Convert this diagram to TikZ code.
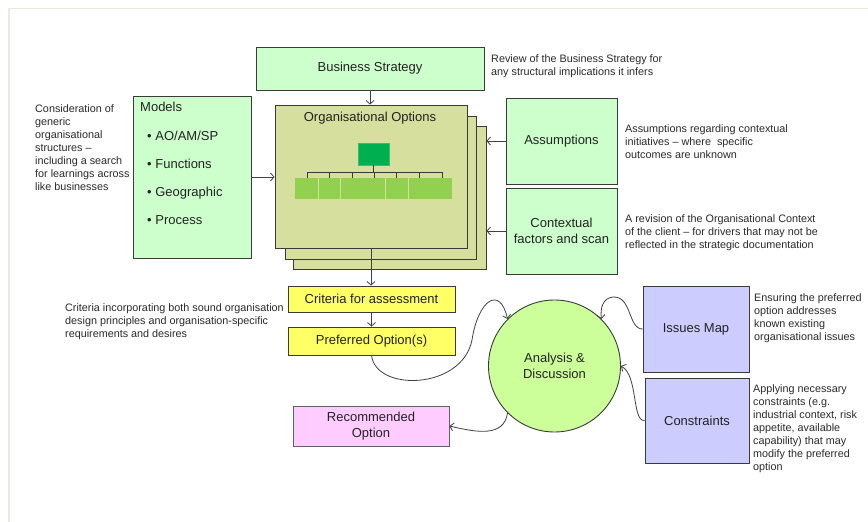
\documentclass[tikz,border=0pt]{standalone}
\usepackage{fontspec}
\setmainfont{Liberation Sans}
\usetikzlibrary{arrows.meta}
\definecolor{lgreen}{HTML}{CCFFCC}
\definecolor{olive}{RGB}{215,223,158}
\definecolor{dkgreen}{HTML}{00B050}
\definecolor{mdgreen}{HTML}{92D050}
\definecolor{yell}{HTML}{FFFF66}
\definecolor{circ}{HTML}{CCFF99}
\definecolor{lav}{HTML}{CCCCFF}
\definecolor{pinkc}{HTML}{FFCCFF}
\definecolor{linec}{HTML}{3A3A3A}
\definecolor{conc}{HTML}{404040}
\definecolor{txt}{HTML}{222222}
\definecolor{notec}{HTML}{2A2A2A}
\definecolor{framec}{HTML}{ECEADC}
\newcommand\bxfont{\fontsize{13}{15.3}\selectfont}
\newcommand\ntfont{\fontsize{10.8}{13}\selectfont}
\begin{document}
\begin{tikzpicture}[x=1pt,y=-1pt,
  box/.style={draw=linec, line width=0.9pt, inner sep=2pt, align=center, font=\bxfont, text=txt},
  note/.style={anchor=north west, inner sep=0pt, align=left, font=\ntfont, text=notec},
  mtext/.style={anchor=base west, inner sep=0pt, font=\bxfont, text=txt},
  conn/.style={draw=conc, line width=0.8pt, -{Straight Barb[length=3.5pt,width=8pt]}},
  chart/.style={draw=linec, line width=0.9pt}]
\useasboundingbox (0,0) rectangle (868,522);
\fill[white] (0,0) rectangle (868,522);
\draw[framec, line width=1.5pt] (9,522) -- (9,8.5) -- (868,8.5);

% top
\node[box, fill=lgreen, minimum width=228pt, minimum height=43pt] (bs) at (370,68.5) {Business Strategy};
\node[note] (bsnote) at (491,54.5) {Review of the Business Strategy for\\any structural implications it infers};

% models
\node[box, fill=lgreen, minimum width=118pt, minimum height=162pt] (models) at (192,177) {};
\node[mtext] (mt) at (140,111.3) {Models};
\node[mtext] (m1) at (147,140.3) {• AO/AM/SP};
\node[mtext] (m2) at (147,168) {• Functions};
\node[mtext] (m3) at (147,196.3) {• Geographic};
\node[mtext] (m4) at (147,224.7) {• Process};
\node[note] (mnote) at (35,104) {Consideration of\\generic\\organisational\\structures –\\including a search\\for learnings across\\like businesses};

% organisational options stack
\node[box, fill=olive, minimum width=193pt, minimum height=143pt] (org3) at (389.5,197.5) {};
\node[box, fill=olive, minimum width=191pt, minimum height=143pt] (org2) at (380.5,187.5) {};
\node[box, fill=olive, minimum width=192pt, minimum height=143pt] (org1) at (371,176.5) {};
\node[anchor=base, inner sep=0pt, font=\bxfont, text=txt] (orgt) at (370,121.3) {Organisational Options};
\node[fill=dkgreen, draw=dkgreen!80!white, line width=0.6pt, minimum width=31pt, minimum height=22pt, inner sep=0pt] (top) at (373.5,154) {};
\draw[chart] (top.south) -- (373.5,172);
\draw[chart] (307,172) -- (442,172);
\foreach \x in {307,329.5,352,374,396.5,419,442} \draw[chart] (\x,172) -- (\x,178);
\foreach \a/\b in {295/317.5,318.5/340,341/384.5,385.5/407.5,408.5/452}
  \fill[mdgreen] (\a,178) rectangle (\b,199);

% right side boxes
\node[box, fill=lgreen, minimum width=111pt, minimum height=86pt] (asm) at (561.5,141) {Assumptions};
\node[box, fill=lgreen, minimum width=111pt, minimum height=86pt] (ctx) at (561.5,231) {Contextual\\factors and scan};
\node[note] (asmnote) at (625,124) {Assumptions regarding contextual\\initiatives – where\ \ specific\\outcomes are unknown};
\node[note] (ctxnote) at (625,214) {A revision of the Organisational Context\\of the client – for drivers that may not be\\reflected in the strategic documentation};

% criteria and preferred
\node[box, fill=yell, minimum width=167pt, minimum height=26pt] (crit) at (371.5,299) {Criteria for assessment};
\node[box, fill=yell, minimum width=167pt, minimum height=28pt] (pref) at (371.5,341) {Preferred Option(s)};
\node[note] (critnote) at (65,303) {Criteria incorporating both sound organisation\\design principles and organisation-specific\\requirements and desires};

% analysis
\node[circle, draw=linec, line width=0.9pt, fill=circ, minimum size=132pt, inner sep=0pt, align=center, font=\bxfont, text=txt] (ad) at (554.5,366) {Analysis \&\\Discussion};

\node[box, fill=lav, minimum width=106pt, minimum height=86pt] (iss) at (696,329) {Issues Map};
\node[box, fill=lav, minimum width=104pt, minimum height=85pt] (cons) at (697,420.5) {Constraints};
\node[note] (issnote) at (754,293) {Ensuring the preferred\\option addresses\\known existing\\organisational issues};
\node[note] (consnote) at (753,384) {Applying necessary\\constraints (e.g.\\industrial context, risk\\appetite, available\\capability) that may\\modify the preferred\\option};

\node[box, draw=linec!80!white, fill=pinkc, minimum width=156pt, minimum height=40pt] (rec) at (371,426) {Recommended\\Option};

% connectors
\draw[conn] (bs.south) -- (bs.south |- org1.north);
\draw[conn] (models.east) -- (org1.west |- models.east);
\draw[conn] (asm.west) -- (org3.east |- asm.west);
\draw[conn] (ctx.west) -- (org3.east |- ctx.west);
\draw[conn] (org1.south) -- (org1.south |- crit.north);
\draw[conn] (crit.south) -- (crit.south |- pref.north);
\draw[conn] (pref.south) .. controls (376,392) and (462,390) .. (472,340) .. controls (478,300) and (500,285) .. (ad.135);
\draw[conn] (iss.west) .. controls (628,329) and (632,296) .. (613,297) .. controls (603,298) and (600,308) .. (ad.45);
\draw[conn] (cons.west) .. controls (632,422) and (638,375) .. (ad.east);
\draw[conn] (ad.225) .. controls (504,438) and (475,432) .. (rec.east);
\end{tikzpicture}
\end{document}
